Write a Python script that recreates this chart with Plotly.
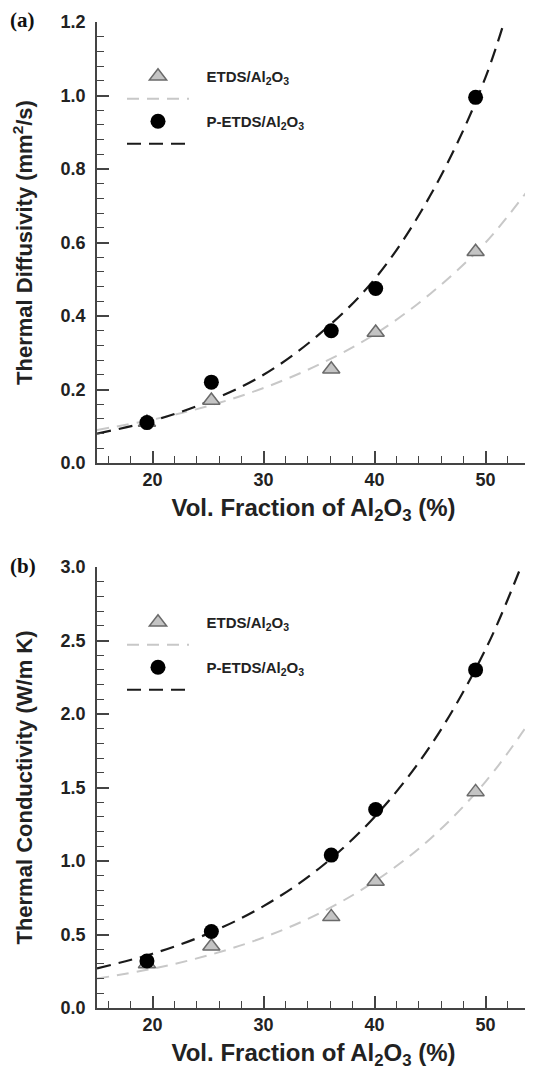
import plotly.graph_objects as go

# ---- data ----
x_vol = [19.5, 25.3, 36.1, 40.1, 49.1]
diff_etds = [0.11, 0.17, 0.255, 0.355, 0.575]
diff_petds = [0.11, 0.22, 0.36, 0.475, 0.995]
cond_etds = [0.30, 0.42, 0.62, 0.86, 1.47]
cond_petds = [0.32, 0.52, 1.04, 1.35, 2.30]

fit_x = [15, 20, 25, 30, 35, 40, 45, 50, 54]
diff_fit_etds = [0.09, 0.118, 0.155, 0.204, 0.268, 0.35, 0.46, 0.60, 0.75]
diff_fit_petds = [0.08, 0.115, 0.167, 0.24, 0.35, 0.50, 0.727, 1.05, 1.45]
cond_fit_etds = [0.20, 0.267, 0.358, 0.48, 0.643, 0.861, 1.15, 1.54, 1.95]
cond_fit_petds = [0.27, 0.369, 0.506, 0.693, 0.949, 1.30, 1.78, 2.44, 3.16]

NB = "\u00a0"
name_etds = NB * 3 + "<b>ETDS/Al<sub>2</sub>O<sub>3</sub></b>"
name_petds = NB * 3 + "<b>P-ETDS/Al<sub>2</sub>O<sub>3</sub></b>"

# page offset of the figure (body margin) is compensated
OFF = 8
W, H = 533 - OFF, 1073 - OFF


def px(x):
    return (x - OFF) / W


def py(y):
    return 1 - (y - OFF) / H


FONT = "Liberation Sans"
AX = "#444444"
TXT = "#222222"

fig = go.Figure()

panels = [
    dict(xa="x", ya="y", leg="legend", fe=diff_fit_etds, fp=diff_fit_petds, de=diff_etds, dp=diff_petds),
    dict(xa="x2", ya="y2", leg="legend2", fe=cond_fit_etds, fp=cond_fit_petds, de=cond_etds, dp=cond_petds),
]
for p in panels:
    fig.add_trace(go.Scatter(x=fit_x, y=p["fe"], mode="lines", xaxis=p["xa"], yaxis=p["ya"],
                             line=dict(color="#c8c8c8", width=2, dash="12px,8px", shape="spline"),
                             name=" ", legend=p["leg"], legendrank=2))
    fig.add_trace(go.Scatter(x=fit_x, y=p["fp"], mode="lines", xaxis=p["xa"], yaxis=p["ya"],
                             line=dict(color="#1a1a1a", width=2.2, dash="14px,8px", shape="spline"),
                             name=" ", legend=p["leg"], legendrank=4))
    fig.add_trace(go.Scatter(x=x_vol, y=p["de"], mode="markers", xaxis=p["xa"], yaxis=p["ya"],
                             marker=dict(symbol="triangle-up", size=15, color="#c4c4c4",
                                         line=dict(color="#6a6a6a", width=1.5)),
                             name=name_etds, legend=p["leg"], legendrank=1))
    fig.add_trace(go.Scatter(x=x_vol, y=p["dp"], mode="markers", xaxis=p["xa"], yaxis=p["ya"],
                             marker=dict(symbol="circle", size=15, color="#000000"),
                             name=name_petds, legend=p["leg"], legendrank=3))

dom_x = [px(97), px(530)]
dom_a = [py(463), py(22)]
dom_b = [py(1008), py(567)]

tickfont = dict(family=FONT, size=18, color=TXT, weight="bold")
xtitlefont = dict(family=FONT, size=24, color=TXT, weight="bold")
ytitlefont = dict(family=FONT, size=22, color=TXT, weight="bold")


def xax(anchor, dom, side="bottom", overlay=None, labels=True, title=None):
    d = dict(domain=dom_x, range=[15, 54], anchor=anchor, side=side, automargin=False,
             tick0=0, dtick=10, ticks="inside", ticklen=12, tickwidth=1.5, tickcolor=AX,
             minor=dict(dtick=2, ticks="inside", ticklen=7, tickwidth=1.2, tickcolor=AX),
             showline=True, linecolor=AX, linewidth=1.5, showgrid=False, zeroline=False,
             showticklabels=labels, tickfont=tickfont)
    if overlay:
        d["overlaying"] = overlay
    if title:
        d["title"] = dict(text=title, font=xtitlefont, standoff=10)
    return d


def yax(anchor, dom, rng, dt, mdt, side="left", overlay=None, labels=True, title=None, line=True):
    d = dict(domain=dom, range=rng, anchor=anchor, side=side, automargin=False,
             tick0=0, dtick=dt, tickformat=".1f", ticks="inside", ticklen=12, tickwidth=1.5, tickcolor=AX,
             minor=dict(dtick=mdt, ticks="inside", ticklen=7, tickwidth=1.2, tickcolor=AX),
             showline=line, linecolor=AX, linewidth=1.5, showgrid=False, zeroline=False,
             showticklabels=labels, tickfont=tickfont, ticklabelstandoff=6)
    if overlay:
        d["overlaying"] = overlay
    if title:
        d["title"] = dict(text=title, font=ytitlefont, standoff=22)
    return d


xtitle = "Vol. Fraction of Al<sub>2</sub>O<sub>3</sub> (%)"
fig.update_layout(
    xaxis=xax("y", dom_a, title=xtitle),
    yaxis=yax("x", dom_a, [0, 1.2], 0.2, 0.04, title="Thermal Diffusivity (mm<sup>2</sup>/s)"),
    xaxis2=xax("y2", dom_b, title=xtitle),
    yaxis2=yax("x2", dom_b, [0, 3.0], 0.5, 0.1, title="Thermal Conductivity (W/m K)"),
    xaxis3=xax("y", dom_a, side="top", overlay="x", labels=False),
    xaxis4=xax("y2", dom_b, side="top", overlay="x2", labels=False),
    yaxis3=yax("x", dom_a, [0, 1.2], 0.2, 0.04, side="right", overlay="y", labels=False, line=False),
    yaxis4=yax("x2", dom_b, [0, 3.0], 0.5, 0.1, side="right", overlay="y2", labels=False, line=False),
)
for ya in ["yaxis3", "yaxis4"]:
    fig.layout[ya].ticklen = 7
    fig.layout[ya].tickwidth = 2
    fig.layout[ya].tickcolor = "#333333"
    fig.layout[ya].minor.ticklen = 3
    fig.layout[ya].minor.tickwidth = 1.5
    fig.layout[ya].minor.tickcolor = "#333333"

legfont = dict(family=FONT, size=15, color=TXT)
fig.update_layout(
    legend=dict(x=px(122), y=py(60), xanchor="left", yanchor="top", font=legfont,
                bgcolor="rgba(0,0,0,0)", tracegroupgap=0, itemwidth=62),
    legend2=dict(x=px(122), y=py(606), xanchor="left", yanchor="top", font=legfont,
                 bgcolor="rgba(0,0,0,0)", tracegroupgap=0, itemwidth=62),
)

# dotted right borders
for dom in [dom_a, dom_b]:
    fig.add_shape(type="line", xref="paper", yref="paper", x0=dom_x[1], x1=dom_x[1],
                  y0=dom[0], y1=dom[1], line=dict(color="#333333", width=1.6, dash="2px,3px"))

for lbl, yy in [("(a)", py(20)), ("(b)", py(566))]:
    fig.add_annotation(text="<b>%s</b>" % lbl, xref="paper", yref="paper", x=0, y=yy,
                       xanchor="left", yanchor="middle", showarrow=False,
                       font=dict(family="Liberation Serif", size=21, color="#111111"))

fig.update_layout(width=W, height=H, margin=dict(l=0, r=0, t=0, b=0, pad=0, autoexpand=False),
                  paper_bgcolor="white", plot_bgcolor="white", showlegend=True)

fig.write_html("out.html")
